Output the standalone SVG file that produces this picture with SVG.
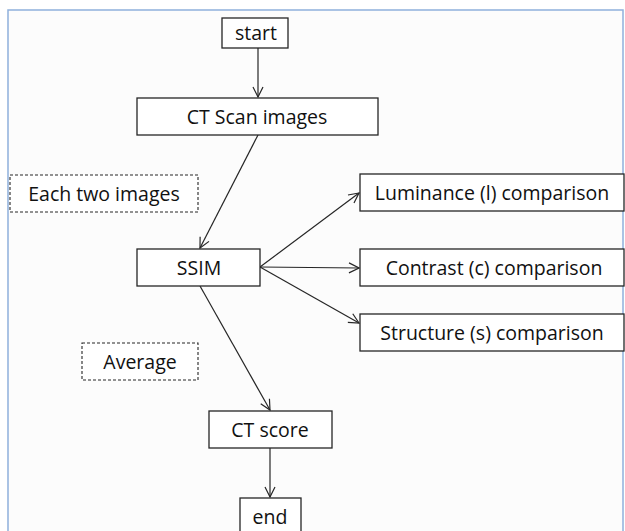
<svg xmlns="http://www.w3.org/2000/svg" width="625" height="531" viewBox="0 0 625 531">
<style>
.box{fill:#ffffff;stroke:#262626;stroke-width:1.3}
.dash{fill:#ffffff;stroke:#262626;stroke-width:1.1;stroke-dasharray:3 2}
.t{font-family:"Open Sans","Liberation Sans",sans-serif;font-size:19.5px;fill:#111;text-anchor:middle;dominant-baseline:central}
.c{stroke:#262626;stroke-width:1.2;fill:none;marker-end:url(#ah)}
</style>
<defs>
<marker id="ah" viewBox="0 0 12 12" refX="11" refY="6" markerWidth="12" markerHeight="12" markerUnits="userSpaceOnUse" orient="auto">
<polyline points="1,1 11,6 1,11" fill="none" stroke="#262626" stroke-width="1.2"/>
</marker>
</defs>
<rect x="0" y="0" width="625" height="531" fill="#ffffff"/>
<rect x="8" y="10" width="615" height="530" fill="#fcfcfc" stroke="#8fb0dc" stroke-width="1.5"/>
<g id="connectors">
<line class="c" x1="258" y1="48" x2="258" y2="97"/>
<line class="c" x1="258" y1="135" x2="200" y2="248"/>
<line class="c" x1="260" y1="267" x2="359" y2="193"/>
<line class="c" x1="260" y1="267" x2="359" y2="268"/>
<line class="c" x1="260" y1="267" x2="359" y2="323"/>
<line class="c" x1="200" y1="286" x2="270" y2="410"/>
<line class="c" x1="270" y1="448" x2="270" y2="497"/>
</g>
<g id="start"><rect class="box" x="222" y="18" width="66" height="30"/><text class="t" x="256" y="32">start</text></g>
<g id="ct-scan"><rect class="box" x="137" y="98" width="241" height="37"/><text class="t" x="257" y="116">CT Scan images</text></g>
<g id="each-two"><rect class="dash" x="10" y="175" width="188" height="37"/><text class="t" x="104" y="193">Each two images</text></g>
<g id="ssim"><rect class="box" x="137" y="249" width="123" height="37"/><text class="t" x="199" y="267">SSIM</text></g>
<g id="luminance"><rect class="box" x="360" y="174" width="264" height="37"/><text class="t" x="492" y="192">Luminance (l) comparison</text></g>
<g id="contrast"><rect class="box" x="360" y="249" width="264" height="37"/><text class="t" x="494" y="267">Contrast (c) comparison</text></g>
<g id="structure"><rect class="box" x="360" y="314" width="264" height="37"/><text class="t" x="492" y="332">Structure (s) comparison</text></g>
<g id="average"><rect class="dash" x="82" y="343" width="116" height="37"/><text class="t" x="140" y="361">Average</text></g>
<g id="ct-score"><rect class="box" x="209" y="411" width="123" height="37"/><text class="t" x="270" y="429">CT score</text></g>
<g id="end"><rect class="box" x="240" y="498" width="61" height="40"/><text class="t" x="270" y="516">end</text></g>
</svg>
